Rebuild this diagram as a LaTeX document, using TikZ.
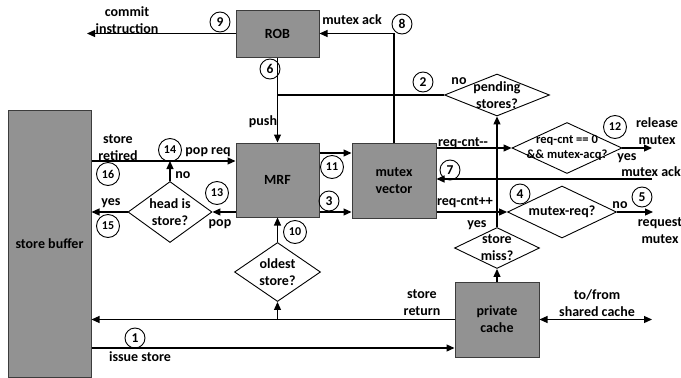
\documentclass[tikz,border=0pt]{standalone}
\usepackage{fontspec}
\setmainfont{Carlito}
\usetikzlibrary{arrows.meta,shapes.geometric}
\definecolor{boxgray}{RGB}{146,146,146}
\definecolor{boxedge}{RGB}{60,60,60}
\begin{document}
\begin{tikzpicture}[x=1pt,y=-1pt,
  every node/.style={font=\bfseries\fontsize{14}{17}\selectfont, inner sep=0pt, align=center},
  blk/.style={draw=boxedge, fill=boxgray, line width=1pt, rectangle},
  dia/.style={draw, fill=white, diamond, line width=0.9pt, inner sep=0pt},
  smalltxt/.style={font=\bfseries\fontsize{12.5}{15}\selectfont},
  num/.style={circle, draw, line width=0.9pt, inner sep=0pt, minimum size=20pt, font=\bfseries\fontsize{13.5}{13.5}\selectfont},
  numw/.style={num, minimum size=23pt, font=\bfseries\fontsize{12}{12}\selectfont},
  ln/.style={line width=1.2pt},
  arr/.style={ln, -{Triangle[length=8pt,width=7pt]}},
  darr/.style={ln, {Triangle[length=8pt,width=7pt]}-{Triangle[length=8pt,width=7pt]}}]
\useasboundingbox (0,0) rectangle (681,378);

% blocks
\node[blk, minimum width=83pt, minimum height=47pt] (rob) at (277.5,33.5) {ROB};
\node[blk, minimum width=83pt, minimum height=74pt] (mrf) at (277.5,180) {MRF};
\node[blk, minimum width=84pt, minimum height=75pt] (mv) at (394,180.5) {mutex\\vector};
\node[blk, minimum width=84pt, minimum height=75pt] (pc) at (497,319.5) {private\\cache};
\node[blk, minimum width=83pt, minimum height=267pt] (sb) at (49.5,243.5) {store buffer};

% decisions
\node[dia, minimum width=105pt, minimum height=42pt] (pend) at (497,95) {};
\node at (pend) {pending\\stores?};
\node[dia, minimum width=84pt, minimum height=61pt] (hd) at (170,212) {};
\node at (hd) {head is\\store?};
\node[dia, minimum width=110pt, minimum height=51pt] (rc) at (567,148) {};
\node[smalltxt] at (rc) {req-cnt == 0\\\&\& mutex-acq?};
\node[dia, minimum width=109pt, minimum height=52pt] (mr) at (562,212) {};
\node at (mr) {mutex-req?};
\node[dia, minimum width=85pt, minimum height=41pt] (sm) at (497,248) {};
\node at (sm) {store\\miss?};
\node[dia, minimum width=86pt, minimum height=59pt] (od) at (277.5,272) {};
\node at (od) {oldest\\store?};

% coordinates
\coordinate (cmt) at (87,33.5);
\coordinate (j1) at (277.5,95);
\coordinate (yRet) at (0,161);
\coordinate (y11) at (0,153);
\coordinate (y3) at (0,212);
\coordinate (rel) at (652,148);
\coordinate (ackin) at (652,179);
\coordinate (req) at (653,212);
\coordinate (shc) at (652,319.5);
\coordinate (yIss) at (0,348);

% connectors
\draw[arr] (rob.west) -- (cmt);
\draw[arr] (rob.south) -- (mrf.north);
\draw[ln] (j1) -- (pend.west);
\draw[arr] (mv.north) |- (rob.east);
\draw[arr] (sb.east |- yRet) -- (mrf.west |- yRet);
\draw[arr] (hd.north) -- (hd.north |- yRet);
\draw[arr] (mrf.west |- hd.east) -- (hd.east);
\draw[arr] (hd.west) -- (sb.east |- hd.west);
\draw[arr] (mrf.east |- y11) -- (mv.west |- y11);
\draw[arr] (mrf.east |- y3) -- (mv.west |- y3);
\draw[arr] (mv.east |- rc.west) -- (rc.west);
\draw[arr] (rc.east) -- (rel);
\draw[arr] (ackin) -- (mv.east |- ackin);
\draw[arr] (mv.east |- mr.west) -- (mr.west);
\draw[arr] (mr.east) -- (req);
\draw[arr] (sm.north) -- (pend.south);
\draw[arr] (pc.north) -- (sm.south);
\draw[darr] (pc.east) -- (shc);
\draw[arr] (pc.west) -- (sb.east |- pc.west);
\draw[arr] (od.south |- pc.west) -- (od.south);
\draw[arr] (od.north) -- (mrf.south);
\draw[arr] (sb.east |- yIss) -- (pc.west |- yIss);

% labels
\node at (127,20) {commit\\instruction};
\node at (352,20) {mutex ack};
\node at (263,122) {push};
\node at (459,81) {no};
\node at (118,148) {store\\retired};
\node at (208,152) {pop req};
\node at (183,175) {no};
\node at (111,203) {yes};
\node at (220,224) {pop};
\node at (463,143) {req-cnt-{}-};
\node at (627,158) {yes};
\node at (657,131) {release\\mutex};
\node[anchor=east] at (681,172) {mutex ack};
\node at (465,202) {req-cnt++};
\node at (620,205) {no};
\node at (660,231) {request\\mutex};
\node at (477,225) {yes};
\node at (422,303) {store\\return};
\node at (597,303) {to/from\\shared cache};
\node at (140,357) {issue store};

% step numbers
\node[num] (n9) at (220,22) {9};
\node[num] (n6) at (270,69) {6};
\node[num] (n8) at (402,24) {8};
\node[num] (n2) at (423,82) {2};
\node[numw] (n14) at (170,150) {14};
\node[numw] (n16) at (108,174) {16};
\node[numw] (n13) at (217,193) {13};
\node[numw] (n15) at (108,226) {15};
\node[numw] (n11) at (332,167) {11};
\node[num] (n3) at (329,201) {3};
\node[numw] (n10) at (295,232) {10};
\node[num] (n7) at (450,170) {7};
\node[numw] (n12) at (615,127) {12};
\node[num] (n4) at (520,194) {4};
\node[num] (n5) at (642,197) {5};
\node[num] (n1) at (135,338) {1};
\end{tikzpicture}
\end{document}
